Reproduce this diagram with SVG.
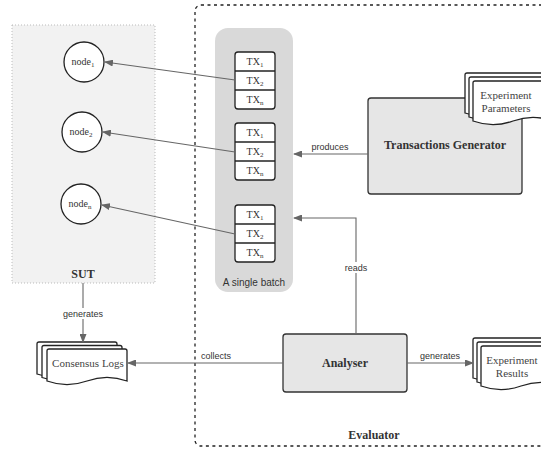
<svg xmlns="http://www.w3.org/2000/svg" xmlns:xlink="http://www.w3.org/1999/xlink" width="541" height="450" viewBox="0 0 541 450">
  <style>
    .title { font-family: "Liberation Serif", serif; font-weight: bold; font-size: 12px; fill: #333; text-anchor: middle; }
    .serif { font-family: "Liberation Serif", serif; font-size: 10px; fill: #333; text-anchor: middle; }
    .doc { font-family: "Liberation Serif", serif; font-size: 11px; fill: #444; text-anchor: middle; }
    .lbl { font-family: "Liberation Sans", sans-serif; font-size: 9px; fill: #333; text-anchor: middle; }
    .batch-lbl { font-family: "Liberation Sans", sans-serif; font-size: 10px; fill: #333; text-anchor: middle; }
    .page { fill: #fff; stroke: #222; stroke-width: 1.3; }
    .node { fill: #fff; stroke: #222; stroke-width: 1.3; }
    .tx { fill: #fff; stroke: #222; stroke-width: 1.3; }
    .box { fill: #e6e6e6; stroke: #333; stroke-width: 1.3; }
    .edge { fill: none; stroke: #666; stroke-width: 1.1; }
    .lblbg { fill: #fff; }
  </style>
  <defs>
    <marker id="arrow" markerWidth="9" markerHeight="7" refX="8" refY="3.5" orient="auto" markerUnits="userSpaceOnUse">
      <path d="M0,0 L9,3.5 L0,7 Z" fill="#666"/>
    </marker>
    <!-- document page shapes with wavy bottom -->
    <path id="pageShort" d="M0,2 Q0,0 2,0 H78 Q80,0 80,2 V32 Q60,24.8 40,32 Q20,39.2 0,32 Z"/>
    <path id="pageTall" d="M0,2 Q0,0 2,0 H78 Q80,0 80,2 V40 Q60,32.8 40,40 Q20,47.2 0,40 Z"/>
  </defs>

  <!-- SUT container -->
  <g id="sut">
    <rect x="12" y="25" width="143" height="258" fill="#f2f2f2" stroke="#bbb" stroke-width="1" stroke-dasharray="1 2"/>
    <text class="title" x="83" y="278">SUT</text>
  </g>

  <!-- Evaluator container -->
  <g id="evaluator">
    <rect x="195" y="5" width="400" height="441" rx="6" fill="none" stroke="#222" stroke-width="1.3" stroke-dasharray="3 3.5"/>
    <text class="title" x="374" y="439">Evaluator</text>
  </g>

  <!-- batch container -->
  <g id="batch">
    <rect x="215" y="28" width="78" height="264" rx="13" fill="#d9d9d9"/>
    <text class="batch-lbl" x="254" y="286">A single batch</text>
  </g>

  <!-- transaction groups -->
  <g id="tx-group-1">
    <rect class="tx" x="235" y="52" width="40" height="57" rx="3"/>
    <line x1="235" y1="71" x2="275" y2="71" stroke="#222" stroke-width="1.3"/>
    <line x1="235" y1="90" x2="275" y2="90" stroke="#222" stroke-width="1.3"/>
    <text class="serif" x="255" y="65">TX<tspan font-size="7" dy="2">1</tspan></text>
    <text class="serif" x="255" y="84">TX<tspan font-size="7" dy="2">2</tspan></text>
    <text class="serif" x="255" y="103">TX<tspan font-size="7" dy="2">n</tspan></text>
  </g>
  <g id="tx-group-2">
    <rect class="tx" x="235" y="123" width="40" height="57" rx="3"/>
    <line x1="235" y1="142" x2="275" y2="142" stroke="#222" stroke-width="1.3"/>
    <line x1="235" y1="161" x2="275" y2="161" stroke="#222" stroke-width="1.3"/>
    <text class="serif" x="255" y="136">TX<tspan font-size="7" dy="2">1</tspan></text>
    <text class="serif" x="255" y="155">TX<tspan font-size="7" dy="2">2</tspan></text>
    <text class="serif" x="255" y="174">TX<tspan font-size="7" dy="2">n</tspan></text>
  </g>
  <g id="tx-group-3">
    <rect class="tx" x="235" y="205" width="40" height="57" rx="3"/>
    <line x1="235" y1="224" x2="275" y2="224" stroke="#222" stroke-width="1.3"/>
    <line x1="235" y1="243" x2="275" y2="243" stroke="#222" stroke-width="1.3"/>
    <text class="serif" x="255" y="218">TX<tspan font-size="7" dy="2">1</tspan></text>
    <text class="serif" x="255" y="237">TX<tspan font-size="7" dy="2">2</tspan></text>
    <text class="serif" x="255" y="256">TX<tspan font-size="7" dy="2">n</tspan></text>
  </g>

  <!-- SUT nodes -->
  <g id="node-1">
    <circle class="node" cx="84" cy="62" r="20"/>
    <text class="serif" x="83" y="65">node<tspan font-size="7" dy="2">1</tspan></text>
  </g>
  <g id="node-2">
    <circle class="node" cx="82" cy="132" r="20"/>
    <text class="serif" x="81" y="135">node<tspan font-size="7" dy="2">2</tspan></text>
  </g>
  <g id="node-n">
    <circle class="node" cx="81" cy="204" r="20"/>
    <text class="serif" x="80" y="207">node<tspan font-size="7" dy="2">n</tspan></text>
  </g>

  <!-- Transactions Generator -->
  <g id="transactions-generator">
    <rect class="box" x="368" y="98" width="154" height="96" rx="3"/>
    <text class="title" x="445" y="149">Transactions Generator</text>
  </g>

  <!-- Experiment Parameters -->
  <g id="experiment-parameters">
    <use href="#pageTall" class="page" x="465" y="73"/>
    <use href="#pageTall" class="page" x="469" y="77"/>
    <use href="#pageTall" class="page" x="473" y="81"/>
    <text class="doc" x="506" y="99">Experiment</text>
    <text class="doc" x="506" y="112">Parameters</text>
  </g>

  <!-- Analyser -->
  <g id="analyser">
    <rect class="box" x="283" y="334" width="124" height="58" rx="3"/>
    <text class="title" x="345" y="367">Analyser</text>
  </g>

  <!-- Experiment Results -->
  <g id="experiment-results">
    <use href="#pageTall" class="page" x="473" y="338"/>
    <use href="#pageTall" class="page" x="477" y="342"/>
    <use href="#pageTall" class="page" x="481" y="346"/>
    <text class="doc" x="512" y="364">Experiment</text>
    <text class="doc" x="512" y="377">Results</text>
  </g>

  <!-- Consensus Logs -->
  <g id="consensus-logs">
    <use href="#pageShort" class="page" x="37" y="342"/>
    <use href="#pageShort" class="page" x="42" y="345.5"/>
    <use href="#pageShort" class="page" x="47" y="349"/>
    <text class="doc" x="88" y="367">Consensus Logs</text>
  </g>

  <!-- connectors -->
  <g id="connectors">
    <line class="edge" x1="235" y1="80" x2="105" y2="62" marker-end="url(#arrow)"/>
    <line class="edge" x1="235" y1="152" x2="103" y2="132" marker-end="url(#arrow)"/>
    <line class="edge" x1="235" y1="234" x2="102" y2="205" marker-end="url(#arrow)"/>

    <line class="edge" x1="368" y1="154" x2="294" y2="154" marker-end="url(#arrow)"/>
    <text class="lbl" x="330" y="150">produces</text>

    <polyline class="edge" points="356,334 356,218 294,218" marker-end="url(#arrow)"/>
    <rect class="lblbg" x="344" y="262" width="24" height="11"/>
    <text class="lbl" x="356" y="271">reads</text>

    <line class="edge" x1="83" y1="283" x2="83" y2="342" marker-end="url(#arrow)"/>
    <rect class="lblbg" x="62" y="308" width="42" height="11"/>
    <text class="lbl" x="83" y="317">generates</text>

    <line class="edge" x1="283" y1="363" x2="128" y2="363" marker-end="url(#arrow)"/>
    <text class="lbl" x="216" y="359">collects</text>

    <line class="edge" x1="407" y1="363" x2="473" y2="363" marker-end="url(#arrow)"/>
    <text class="lbl" x="440" y="359">generates</text>
  </g>
</svg>
